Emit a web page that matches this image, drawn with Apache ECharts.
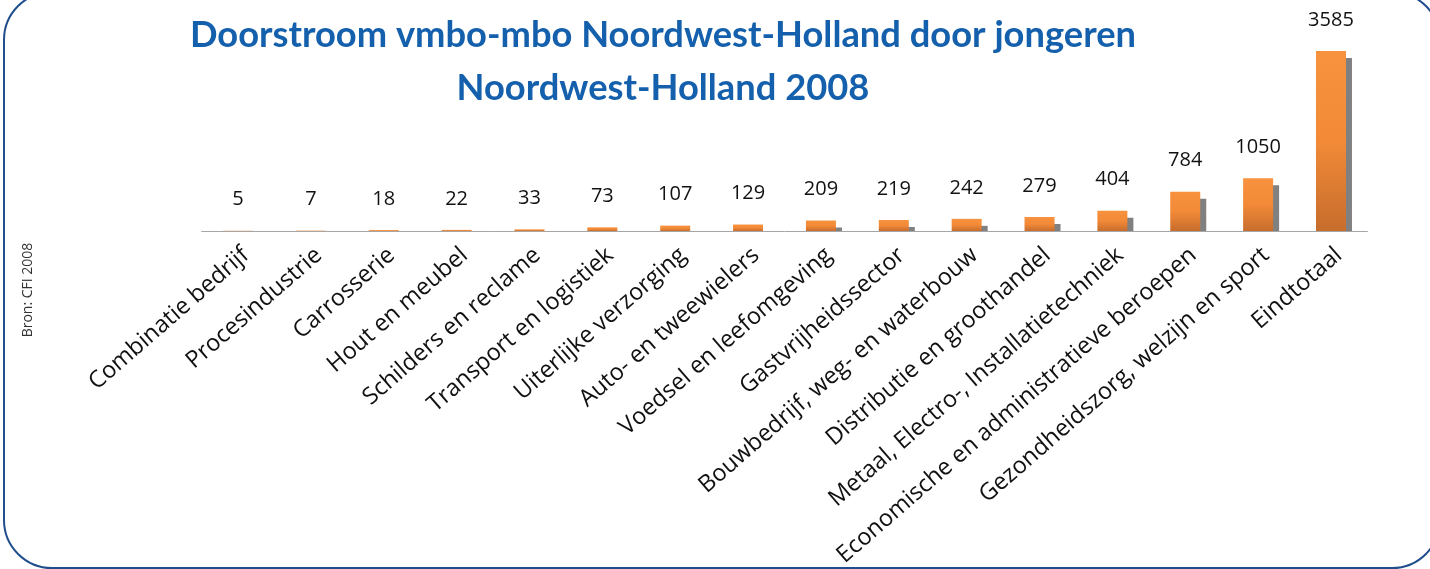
<!DOCTYPE html>
<html>
<head>
<meta charset="utf-8">
<script src="https://cdn.jsdelivr.net/npm/echarts@6/dist/echarts.min.js"></script>
<style>
    html, body { margin: 0; padding: 0; background: #fff; }
    #chart { width: 1430px; height: 569px; }
</style>
</head>
<body>
<div id="chart"></div>
<script>
    // data
    var categories = ['Combinatie bedrijf', 'Procesindustrie', 'Carrosserie', 'Hout en meubel',
        'Schilders en reclame', 'Transport en logistiek', 'Uiterlijke verzorging', 'Auto- en tweewielers',
        'Voedsel en leefomgeving', 'Gastvrijheidssector', 'Bouwbedrijf, weg- en waterbouw',
        'Distributie en groothandel', 'Metaal, Electro-, Installatietechniek',
        'Economische en administratieve beroepen', 'Gezondheidszorg, welzijn en sport', 'Eindtotaal'];
    var values = [5, 7, 18, 22, 33, 73, 107, 129, 209, 219, 242, 279, 404, 784, 1050, 3585];

    var chart = echarts.init(document.getElementById('chart'));

    var shadowData = values.map(function (v, i) { return [i, v]; });

    chart.setOption({
        animation: false,
        title: {
            text: 'Doorstroom vmbo-mbo Noordwest-Holland door jongeren\nNoordwest-Holland 2008',
            left: 658,
            top: 4,
            textAlign: 'center',
            textStyle: {
                fontFamily: 'Lato',
                fontWeight: 'bold',
                fontSize: 36.3,
                color: '#1560ac',
                lineHeight: 53
            }
        },
        grid: {
            left: 201.6,
            right: 62.6,
            top: 50.3,
            bottom: 338,
            containLabel: false,
            outerBoundsMode: 'none'
        },
        xAxis: {
            type: 'category',
            data: categories,
            axisLine: { lineStyle: { color: '#a6a6a6', width: 1 } },
            axisTick: { show: false },
            axisLabel: {
                rotate: 41,
                interval: 0,
                margin: 12,
                verticalAlign: 'top',
                color: '#111',
                fontFamily: 'Open Sans',
                fontSize: 23.5
            }
        },
        yAxis: {
            type: 'value',
            min: 0,
            max: 3600,
            show: false,
            splitLine: { show: false }
        },
        series: [
            {
                // grey drop shadow behind each bar
                type: 'custom',
                z: 1,
                data: shadowData,
                renderItem: function (params, api) {
                    var top = api.coord([api.value(0), api.value(1)]);
                    var base = api.coord([api.value(0), 0]);
                    var y = top[1] + 7;
                    if (y >= base[1]) return;
                    return {
                        type: 'rect',
                        shape: { x: top[0] - 15 + 6, y: y, width: 30, height: base[1] - y },
                        style: { fill: '#808080' }
                    };
                }
            },
            {
                type: 'bar',
                z: 2,
                barWidth: 30,
                data: values,
                itemStyle: {
                    color: new echarts.graphic.LinearGradient(0, 0, 0, 1, [
                        { offset: 0, color: '#f8923f' },
                        { offset: 0.5, color: '#f28a38' },
                        { offset: 1, color: '#c76d2d' }
                    ])
                },
                label: {
                    show: true,
                    position: 'top',
                    distance: 21,
                    color: '#111',
                    fontFamily: 'Open Sans',
                    fontSize: 20
                }
            }
        ],
        graphic: [
            {
                type: 'rect',
                shape: { x: 4, y: -8, width: 1436, height: 576, r: 48 },
                style: { fill: 'none', stroke: '#1f4e8c', lineWidth: 2 },
                z: 0
            },
            {
                type: 'text',
                x: 28,
                y: 290,
                rotation: Math.PI / 2,
                style: {
                    text: 'Bron: CFI 2008',
                    fill: '#333',
                    font: '14px "Open Sans"',
                    align: 'center',
                    verticalAlign: 'middle'
                }
            }
        ]
    });
</script>
</body>
</html>
